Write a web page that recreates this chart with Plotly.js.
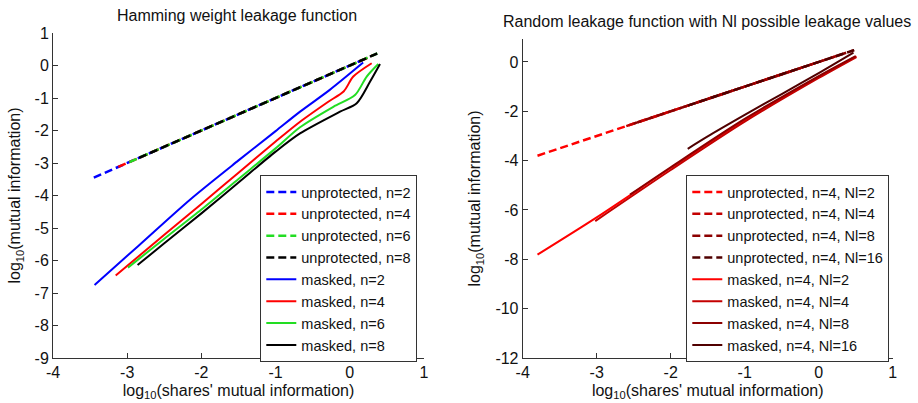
<!DOCTYPE html>
<html>
<head>
<meta charset="utf-8">
<script src="https://cdn.plot.ly/plotly-3.0.1.min.js"></script>
<style>html,body{margin:0;padding:0;background:#fff;}#chart{width:918px;height:403px;}</style>
</head>
<body>
<div id="chart"></div>
<script>
// ---------- Left panel: Hamming weight leakage ----------
const hwUnp2X = [-3.45, -2, -1, 0, 0.18];
const hwUnp2Y = [-3.45, -2, -1, 0, 0.18];
const hwUnp4X = [-3.12, -2, -1, 0, 0.31];
const hwUnp4Y = [-3.12, -2, -1, 0, 0.31];
const hwUnp6X = [-2.97, -2, -1, 0, 0.37];
const hwUnp6Y = [-2.97, -2, -1, 0, 0.37];
const hwUnp8X = [-2.84, -2, -1, 0, 0.40];
const hwUnp8Y = [-2.84, -2, -1, 0, 0.40];

const hwMask2X = [-3.44, -2.85, -2.15, -1.5, -1.0, -0.67, -0.27, 0.18];
const hwMask2Y = [-6.75, -5.55, -4.12, -2.92, -2.02, -1.42, -0.75, 0.09];
const hwMask4X = [-3.155, -2.5, -2.0, -1.5, -1.0, -0.67, -0.3, -0.08, 0.047, 0.295];
const hwMask4Y = [-6.46, -5.21, -4.26, -3.3, -2.34, -1.73, -1.13, -0.79, -0.34, 0.07];
const hwMask6X = [-2.99, -2.5, -2.0, -1.5, -1.0, -0.671, -0.222, 0.07, 0.228, 0.384];
const hwMask6Y = [-6.22, -5.33, -4.43, -3.49, -2.55, -1.90, -1.27, -0.91, -0.34, 0.046];
const hwMask8X = [-2.86, -2.5, -2.0, -1.5, -1.0, -0.671, -0.132, 0.093, 0.272, 0.407];
const hwMask8Y = [-6.14, -5.47, -4.55, -3.6, -2.65, -2.09, -1.42, -1.16, -0.50, 0.046];

// ---------- Right panel: random leakage, n=4 ----------
const rlUnp2X = [-3.8, -3, -2, -1, 0];
const rlUnp2Y = [-3.8, -3, -2, -1, 0];
const rlUnp4X = [-2.6, -2, -1, 0, 0.30];
const rlUnp4Y = [-2.6, -2, -1, 0, 0.30];
const rlUnp8X = [-2.5, -2, -1, 0, 0.477];
const rlUnp8Y = [-2.5, -2, -1, 0, 0.477];
const rlUnp16X = [-1.77, -1, 0, 0.48];
const rlUnp16Y = [-1.77, -1, 0, 0.48];

const rlMask2X = [-3.8, -3.0, -2.0, -1.0, 0, 0.51];
const rlMask2Y = [-7.81, -6.3, -4.3, -2.35, -0.6, 0.23];
const rlMask4X = [-3.02, -2.0, -1.0, 0, 0.51];
const rlMask4Y = [-6.45, -4.38, -2.42, -0.65, 0.2];
const rlMask8X = [-2.55, -2.0, -1.0, 0, 0.5];
const rlMask8Y = [-5.38, -4.27, -2.31, -0.57, 0.24];
const rlMask16X = [-1.77, -1.5, -1.0, -0.5, 0, 0.47];
const rlMask16Y = [-3.52, -3.02, -2.15, -1.3, -0.45, 0.38];

const hwNames = ['n=2', 'n=4', 'n=6', 'n=8'];
const hwColors = ['#0000ff', '#ff0000', '#22dd22', '#000000'];
const rlNames = ['Nl=2', 'Nl=4', 'Nl=8', 'Nl=16'];
const rlColors = ['#ff0000', '#c40000', '#8c0000', '#500000'];

const FONT = 'Liberation Sans, Arial, Helvetica, sans-serif';
const DASH = '8px,4px';

const hwUnpX = [hwUnp2X, hwUnp4X, hwUnp6X, hwUnp8X];
const hwUnpY = [hwUnp2Y, hwUnp4Y, hwUnp6Y, hwUnp8Y];
const hwMaskX = [hwMask2X, hwMask4X, hwMask6X, hwMask8X];
const hwMaskY = [hwMask2Y, hwMask4Y, hwMask6Y, hwMask8Y];
const rlUnpX = [rlUnp2X, rlUnp4X, rlUnp8X, rlUnp16X];
const rlUnpY = [rlUnp2Y, rlUnp4Y, rlUnp8Y, rlUnp16Y];
const rlMaskX = [rlMask2X, rlMask4X, rlMask8X, rlMask16X];
const rlMaskY = [rlMask2Y, rlMask4Y, rlMask8Y, rlMask16Y];

const traces = [];
for (let i = 0; i < 4; i++) {
  traces.push({x: hwUnpX[i], y: hwUnpY[i], type: 'scatter', mode: 'lines',
    name: 'unprotected, ' + hwNames[i], line: {color: hwColors[i], width: 2.5, dash: DASH},
    xaxis: 'x', yaxis: 'y', legend: 'legend'});
}
for (let i = 0; i < 4; i++) {
  traces.push({x: hwMaskX[i], y: hwMaskY[i], type: 'scatter', mode: 'lines',
    name: 'masked, ' + hwNames[i], line: {color: hwColors[i], width: 2, shape: 'spline', smoothing: 0.8},
    xaxis: 'x', yaxis: 'y', legend: 'legend'});
}
for (let i = 0; i < 4; i++) {
  traces.push({x: rlUnpX[i], y: rlUnpY[i], type: 'scatter', mode: 'lines',
    name: 'unprotected, n=4, ' + rlNames[i], line: {color: rlColors[i], width: 2.5, dash: DASH},
    xaxis: 'x2', yaxis: 'y2', legend: 'legend2'});
}
for (let i = 0; i < 4; i++) {
  traces.push({x: rlMaskX[i], y: rlMaskY[i], type: 'scatter', mode: 'lines',
    name: 'masked, n=4, ' + rlNames[i], line: {color: rlColors[i], width: 2, shape: 'spline', smoothing: 0.8},
    xaxis: 'x2', yaxis: 'y2', legend: 'legend2'});
}

const W = 918, H = 403;
function axisBase() {
  return {
    showline: true, linecolor: '#333', linewidth: 1, mirror: false,
    ticks: 'inside', ticklen: 5, tickcolor: '#333', tickwidth: 1,
    showgrid: false, zeroline: false,
    tickfont: {family: FONT, size: 16, color: '#111'},
    fixedrange: true
  };
}
const xa = Object.assign(axisBase(), {
  domain: [53 / W, 424 / W], range: [-4, 1], tickvals: [-4, -3, -2, -1, 0, 1],
  ticktext: ['-4', '-3', '-2', '-1', '0', '1'], anchor: 'y',
  title: {text: 'log<sub>10</sub>(shares\' mutual information)', font: {family: FONT, size: 16, color: '#111'}, standoff: 4}
});
const ya = Object.assign(axisBase(), {
  domain: [1 - 358 / H, 1 - 33 / H], range: [-9, 1], tickvals: [-9, -8, -7, -6, -5, -4, -3, -2, -1, 0, 1],
  ticktext: ['-9', '-8', '-7', '-6', '-5', '-4', '-3', '-2', '-1', '0', '1'], anchor: 'x',
  title: {text: 'log<sub>10</sub>(mutual information)', font: {family: FONT, size: 16, color: '#111'}, standoff: 9}
});
const xa2 = Object.assign(axisBase(), {
  domain: [522.7 / W, 892.7 / W], range: [-4, 1], tickvals: [-4, -3, -2, -1, 0, 1],
  ticktext: ['-4', '-3', '-2', '-1', '0', '1'], anchor: 'y2',
  title: {text: 'log<sub>10</sub>(shares\' mutual information)', font: {family: FONT, size: 16, color: '#111'}, standoff: 4}
});
const ya2 = Object.assign(axisBase(), {
  domain: [1 - 358 / H, 1 - 39 / H], range: [-12, 0.93], tickvals: [-12, -10, -8, -6, -4, -2, 0],
  ticktext: ['-12', '-10', '-8', '-6', '-4', '-2', '0'], anchor: 'x2',
  title: {text: 'log<sub>10</sub>(mutual information)', font: {family: FONT, size: 16, color: '#111'}, standoff: 10}
});

function legendBase(xr) {
  return {
    x: xr / W, xanchor: 'right', y: 1 - 175 / H, yanchor: 'top',
    bgcolor: '#ffffff', bordercolor: '#333', borderwidth: 1,
    font: {family: FONT, size: 14.5, color: '#111'}, tracegroupgap: 0, itemwidth: 30,
    traceorder: 'normal'
  };
}

const layout = {
  width: W, height: H,
  margin: {l: 0, r: 0, t: 0, b: 0},
  paper_bgcolor: '#fff', plot_bgcolor: '#fff',
  showlegend: true,
  xaxis: xa, yaxis: ya, xaxis2: xa2, yaxis2: ya2,
  legend: legendBase(417.3),
  legend2: legendBase(889.3),
  annotations: [
    {text: 'Hamming weight leakage function', xref: 'paper', yref: 'paper',
     x: 237 / W, y: 1 - 15 / H, xanchor: 'center', yanchor: 'middle', showarrow: false,
     font: {family: FONT, size: 16, color: '#111'}},
    {text: 'Random leakage function with Nl possible leakage values', xref: 'paper', yref: 'paper',
     x: 706.7 / W, y: 1 - 21.7 / H, xanchor: 'center', yanchor: 'middle', showarrow: false,
     font: {family: FONT, size: 16, color: '#111'}}
  ]
};

Plotly.newPlot('chart', traces, layout, {displayModeBar: false, staticPlot: true});
</script>
</body>
</html>
